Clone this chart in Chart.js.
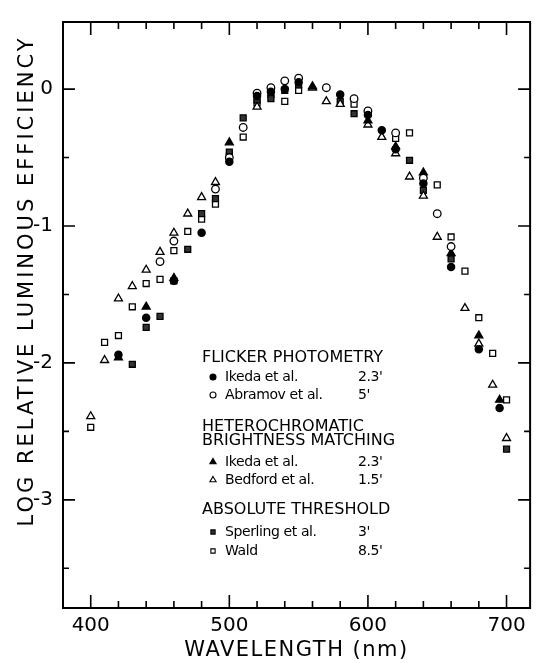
<!DOCTYPE html>
<html>
<head>
<meta charset="utf-8">
<script src="https://cdn.jsdelivr.net/npm/chart.js@4"></script>
<style>
  html, body { margin: 0; padding: 0; background: #fff; }
  #wrap { width: 536px; height: 663px; position: relative; }
</style>
</head>
<body>
<div id="wrap"><canvas id="chart"></canvas></div>
<script>
const xTicks = [400, 500, 600, 700];
const yTicks = [0, -1, -2, -3];

// flicker photometry
const ikedaFlickerNm = [420, 440, 460, 480, 500, 520, 530, 540, 550, 580, 600, 610, 620, 640, 660, 680, 695];
const ikedaFlickerVal = [-1.94, -1.67, -1.40, -1.05, -0.53, -0.05, -0.02, 0.00, 0.05, -0.04, -0.19, -0.30, -0.44, -0.69, -1.30, -1.90, -2.33];
const abramovNm = [450, 460, 490, 500, 510, 520, 530, 540, 550, 570, 590, 600, 620, 640, 650, 660];
const abramovVal = [-1.26, -1.11, -0.73, -0.50, -0.28, -0.03, 0.01, 0.06, 0.08, 0.01, -0.07, -0.16, -0.32, -0.65, -0.91, -1.15];

// heterochromatic brightness matching
const ikedaHbmNm = [420, 440, 460, 500, 560, 600, 620, 640, 660, 680, 695];
const ikedaHbmVal = [-1.96, -1.59, -1.38, -0.39, 0.02, -0.23, -0.42, -0.61, -1.20, -1.80, -2.27];
const bedfordNm = [400, 410, 420, 430, 440, 450, 460, 470, 480, 490, 520, 560, 570, 580, 600, 610, 620, 630, 640, 650, 670, 680, 690, 700];
const bedfordVal = [-2.39, -1.98, -1.53, -1.44, -1.32, -1.19, -1.05, -0.91, -0.79, -0.68, -0.13, 0.01, -0.09, -0.11, -0.26, -0.35, -0.47, -0.64, -0.78, -1.08, -1.60, -1.86, -2.16, -2.55];

// absolute threshold
const sperlingNm = [430, 440, 450, 460, 470, 480, 490, 500, 510, 520, 530, 540, 550, 580, 590, 630, 640, 660, 700];
const sperlingVal = [-2.01, -1.74, -1.66, -1.40, -1.17, -0.91, -0.80, -0.46, -0.21, -0.08, -0.07, -0.01, 0.03, -0.09, -0.18, -0.52, -0.74, -1.24, -2.63];
const waldNm = [400, 410, 420, 430, 440, 450, 460, 470, 480, 490, 500, 510, 520, 530, 540, 550, 590, 620, 630, 640, 650, 660, 670, 680, 690, 700];
const waldVal = [-2.47, -1.85, -1.80, -1.59, -1.42, -1.39, -1.18, -1.04, -0.95, -0.84, -0.49, -0.35, -0.10, -0.04, -0.09, -0.01, -0.11, -0.36, -0.32, -0.65, -0.70, -1.08, -1.33, -1.67, -1.93, -2.27];

const FONT = '"DejaVu Sans", sans-serif';

function pts(nm, vals) {
  return nm.map((x, i) => ({ x: x, y: vals[i] }));
}

// marker look for each series (style only)
const series = [
  { name: 'Ikeda et al.', field: "2.3'", nm: ikedaFlickerNm, val: ikedaFlickerVal, shape: 'circle', fill: '#000', r: 3.6 },
  { name: 'Abramov et al.', field: "5'", nm: abramovNm, val: abramovVal, shape: 'circle', fill: '#fff', r: 3.8 },
  { name: 'Ikeda et al.', field: "2.3'", nm: ikedaHbmNm, val: ikedaHbmVal, shape: 'triangle', fill: '#000', r: 4.6 },
  { name: 'Bedford et al.', field: "1.5'", nm: bedfordNm, val: bedfordVal, shape: 'triangle', fill: '#fff', r: 4.6 },
  { name: 'Sperling et al.', field: "3'", nm: sperlingNm, val: sperlingVal, shape: 'rect', fill: '#333', r: 4.2 },
  { name: 'Wald', field: "8.5'", nm: waldNm, val: waldVal, shape: 'rect', fill: '#fff', r: 4.2 }
];

const datasets = series.map(s => ({
  label: s.name,
  data: pts(s.nm, s.val),
  pointStyle: s.shape,
  pointRadius: s.r,
  pointBackgroundColor: s.fill,
  pointBorderColor: '#000',
  pointBorderWidth: 1.3,
  showLine: false
}));

function drawMarker(ctx, s, x, y, r) {
  ctx.save();
  ctx.beginPath();
  if (s.shape === 'circle') {
    ctx.arc(x, y, r, 0, Math.PI * 2);
  } else if (s.shape === 'triangle') {
    ctx.moveTo(x, y - r);
    ctx.lineTo(x + r * 0.866, y + r * 0.5);
    ctx.lineTo(x - r * 0.866, y + r * 0.5);
    ctx.closePath();
  } else {
    const h = r * 0.707;
    ctx.rect(x - h, y - h, 2 * h, 2 * h);
  }
  ctx.fillStyle = s.fill;
  ctx.fill();
  ctx.lineWidth = 1.1;
  ctx.strokeStyle = '#000';
  ctx.stroke();
  ctx.restore();
}

const framePlugin = {
  id: 'frame',
  afterDraw(chart) {
    const ctx = chart.ctx;
    const a = chart.chartArea;
    const xs = chart.scales.x, ys = chart.scales.y;
    ctx.save();
    ctx.strokeStyle = '#000';
    ctx.lineWidth = 2;
    ctx.strokeRect(a.left, a.top, a.right - a.left, a.bottom - a.top);

    // inward tick marks on all four sides
    ctx.lineWidth = 1.6;
    ctx.beginPath();
    for (let v = 400; v <= 700; v += 20) {
      const px = xs.getPixelForValue(v);
      const len = (v % 100 === 0) ? 13 : 7;
      ctx.moveTo(px, a.bottom); ctx.lineTo(px, a.bottom - len);
      ctx.moveTo(px, a.top); ctx.lineTo(px, a.top + len);
    }
    for (let v = 0; v >= -3.5; v -= 0.5) {
      const py = ys.getPixelForValue(v);
      const len = (Number.isInteger(v)) ? 12 : 6;
      ctx.moveTo(a.left, py); ctx.lineTo(a.left + len, py);
      ctx.moveTo(a.right, py); ctx.lineTo(a.right - len, py);
    }
    ctx.stroke();

    // axis titles
    ctx.fillStyle = '#000';
    ctx.font = '21px ' + FONT;
    ctx.textAlign = 'center';
    ctx.textBaseline = 'middle';
    ctx.letterSpacing = '1.5px';
    ctx.fillText('WAVELENGTH (nm)', (a.left + a.right) / 2, 651);
    ctx.save();
    ctx.translate(28, 281);
    ctx.rotate(-Math.PI / 2);
    ctx.letterSpacing = '3px';
    ctx.fillText('LOG RELATIVE LUMINOUS EFFICIENCY', 0, 0);
    ctx.restore();
    ctx.letterSpacing = '0px';

    // legend inside the plot
    ctx.textAlign = 'left';
    const headX = 202, markX = 213, nameX = 225, fieldX = 358;
    const heads = [
      ['FLICKER PHOTOMETRY', 358],
      ['HETEROCHROMATIC', 427],
      ['BRIGHTNESS MATCHING', 441],
      ['ABSOLUTE THRESHOLD', 510]
    ];
    const rows = [377, 395, 462, 480, 532, 551];
    ctx.font = '16px ' + FONT;
    heads.forEach(h => ctx.fillText(h[0], headX, h[1]));
    ctx.font = '14px ' + FONT;
    ctx.letterSpacing = '-0.4px';
    series.forEach((s, i) => {
      drawMarker(ctx, s, markX, rows[i], s.shape === 'triangle' ? 3.6 : 3);
      ctx.fillText(s.name, nameX, rows[i]);
      ctx.fillText(s.field, fieldX, rows[i]);
    });
    ctx.letterSpacing = '0px';
    ctx.restore();
  }
};

new Chart(document.getElementById('chart'), {
  type: 'scatter',
  data: { datasets: datasets },
  options: {
    responsive: true,
    maintainAspectRatio: false,
    animation: false,
    devicePixelRatio: 1,
    layout: { padding: { left: 0, right: 3, top: 9, bottom: 0 } },
    plugins: { legend: { display: false }, tooltip: { enabled: false } },
    scales: {
      x: {
        type: 'linear',
        min: 380,
        max: 717,
        grid: { display: false, drawTicks: false },
        border: { display: false },
        afterBuildTicks: s => { s.ticks = xTicks.map(v => ({ value: v })); },
        afterFit: s => { s.height = 55; },
        ticks: { color: '#000', padding: 6, maxRotation: 0, font: { family: FONT, size: 20 } }
      },
      y: {
        type: 'linear',
        min: -3.79,
        max: 0.49,
        grid: { display: false, drawTicks: false },
        border: { display: false },
        afterBuildTicks: s => { s.ticks = yTicks.map(v => ({ value: v })); },
        afterFit: s => { s.width = 63; },
        ticks: { color: '#000', padding: 10, font: { family: FONT, size: 20 },
          callback: v => String(v) }
      }
    }
  },
  plugins: [framePlugin]
});
</script>
</body>
</html>
